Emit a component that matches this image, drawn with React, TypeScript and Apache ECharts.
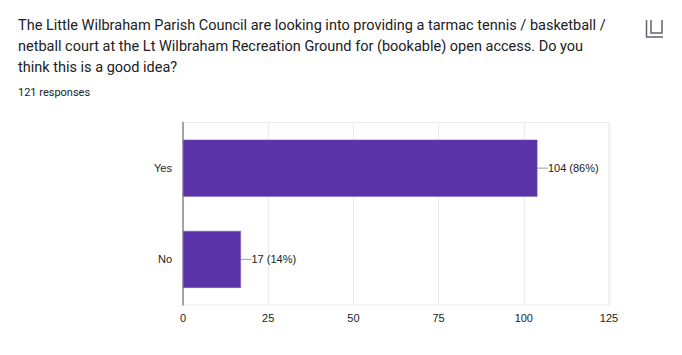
import React, { useEffect, useRef } from "react";
import * as echarts from "echarts";

const categories = ["No", "Yes"];
const counts = [17, 104];
const percents = [14, 86];
const ticks = [0, 25, 50, 75, 100, 125];
const questionLines = [
  "The Little Wilbraham Parish Council are looking into providing a tarmac tennis / basketball /",
  "netball court at the Lt Wilbraham Recreation Ground for (bookable) open access. Do you",
  "think this is a good idea?",
];
const responsesText = "121 responses";

export default function App() {
  const ref = useRef<HTMLDivElement>(null);
  useEffect(() => {
    document.body.style.margin = "0";
    const chart = echarts.init(ref.current!, undefined, { renderer: "svg" });
    chart.setOption({
      animation: false,
      backgroundColor: "#ffffff",
      title: [
        {
          text: questionLines.join("\n"),
          left: 18,
          top: 15,
          padding: 0,
          textStyle: { fontFamily: "Roboto", fontSize: 14.5, fontWeight: 400, color: "#202124", lineHeight: 21 },
        },
        {
          text: responsesText,
          left: 18,
          top: 85,
          padding: 0,
          textStyle: { fontFamily: "Roboto", fontSize: 11, fontWeight: 400, color: "#202124", lineHeight: 14 },
        },
      ],
      grid: {
        left: 183,
        top: 122.5,
        width: 426,
        height: 182.5,
        containLabel: false,
        show: true,
        borderColor: "#ebebeb",
        borderWidth: 1,
        backgroundColor: "transparent",
      },
      xAxis: {
        type: "value",
        min: ticks[0],
        max: ticks[ticks.length - 1],
        interval: 25,
        axisLine: { show: false },
        axisTick: { show: false },
        axisLabel: { fontFamily: "Liberation Sans, Arial", fontSize: 11, color: "#222222", margin: 7, hideOverlap: false },
        splitLine: { show: true, lineStyle: { color: "#ebebeb", width: 1 } },
      },
      yAxis: {
        type: "category",
        data: categories,
        axisLine: { show: true, lineStyle: { color: "#8a8a8a", width: 1.5 } },
        axisTick: { show: false },
        axisLabel: { fontFamily: "Liberation Sans, Arial", fontSize: 11, color: "#222222", margin: 11 },
        splitLine: { show: false },
      },
      series: [
        {
          type: "bar",
          data: counts,
          barWidth: 57,
          itemStyle: { color: "#5a33a8", borderColor: "#7f5fc4", borderWidth: 0.5 },
          silent: true,
          label: {
            show: true,
            position: "right",
            distance: 0,
            fontFamily: "Liberation Sans, Arial",
            fontSize: 11,
            color: "#222222",
            formatter: (p: any) => `${counts[p.dataIndex]} (${percents[p.dataIndex]}%)`,
          },
          labelLayout: { dx: 10.5 },
          labelLine: { show: true, length2: 0, smooth: false, lineStyle: { color: "#9e9e9e", width: 1 } },
        },
      ],
      graphic: [
        {
          type: "polyline",
          shape: { points: [[646.5, 20], [646.5, 37], [663, 37]] },
          style: { stroke: "#5f6368", lineWidth: 1.5, fill: "none" },
        },
        {
          type: "polyline",
          shape: { points: [[651, 20], [651, 33], [662, 33], [662, 20]] },
          style: { stroke: "#5f6368", lineWidth: 1.5, fill: "none" },
        },
      ],
    });
    return () => chart.dispose();
  }, []);
  return <div ref={ref} style={{ width: 682, height: 355 }} />;
}
